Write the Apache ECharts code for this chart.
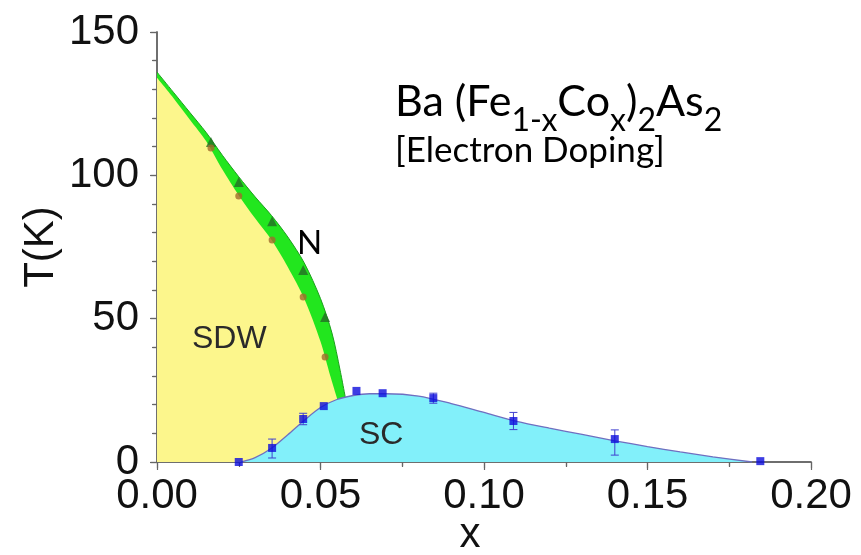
<!DOCTYPE html>
<html>
<head>
<meta charset="utf-8">
<script src="https://cdn.jsdelivr.net/npm/echarts@6/dist/echarts.min.js"></script>
<style>html,body{margin:0;padding:0;background:#fff;}#c{width:861px;height:555px;}</style>
</head>
<body>
<div id="c"></div>
<script>
// ---- data ----
const xTicks = [0, 0.05, 0.10, 0.15, 0.20];
const yTicks = [0, 50, 100, 150];
// SDW boundary (yellow edge)
const sdwX = [0, 0.005, 0.010, 0.015, 0.020, 0.025, 0.030, 0.035, 0.040, 0.045, 0.050, 0.053, 0.0562];
const sdwT = [134, 127, 119.5, 112, 102, 93, 85, 77.5, 68, 57, 42, 30, 18];
// Nematic (N) upper boundary (green band)
const nemX = [0, 0.005, 0.010, 0.015, 0.020, 0.025, 0.030, 0.035, 0.040, 0.045, 0.050, 0.0535, 0.056, 0.058];
const nemT = [136, 129, 122, 115, 107, 99.5, 92.5, 86, 78.5, 69.5, 57, 45, 32, 20];
// markers
const triX = [0.0165, 0.025, 0.0352, 0.0447, 0.0514];
const triT = [111.6, 97.7, 84, 67, 50.6];
const cirX = [0.0165, 0.025, 0.0352, 0.0447, 0.0514];
const cirT = [109.5, 92.8, 77.4, 57.6, 36.6];
// SC dome curve
const domeX = [0.0258, 0.030, 0.035, 0.040, 0.045, 0.050, 0.055, 0.060, 0.065, 0.070, 0.080, 0.090, 0.100, 0.110, 0.120, 0.130, 0.140, 0.150, 0.160, 0.170, 0.182];
const domeT = [0, 1.5, 4.8, 9.5, 14.5, 19, 21.8, 23.2, 23.8, 23.8, 23.0, 20.4, 17.3, 14.2, 11.8, 9.6, 7.4, 5.4, 3.5, 1.8, 0];
// SC data points with error bars
const scX  = [0.025, 0.0352, 0.0447, 0.051, 0.061, 0.069, 0.0845, 0.109, 0.14, 0.1845];
const scT  = [0, 4.9, 15, 19.5, 24.8, 24, 22.3, 14.3, 8, 0.3];
const scLo = [0, 1.4, 13, 19.5, 24.8, 24, 20.5, 11.3, 2.4, 0.3];
const scHi = [0, 8.0, 17, 19.5, 24.8, 24, 24.0, 17.3, 11.2, 0.3];
// formula text pieces: [text, isSubscript]
const formulaParts = [['Ba (Fe', 0], ['1-x', 1], ['Co', 0], ['x', 1], [')', 0], ['2', 1], ['As', 0], ['2', 1]];

const zip = (a, b) => a.map((v, i) => [v, b[i]]);
const errData = scX.map((x, i) => [x, scLo[i], scHi[i]]).filter(d => d[2] - d[1] > 1);

// build formula as separate text pieces, advancing by measured width
const ctx = document.createElement('canvas').getContext('2d');
const mainFont = 'Lato, "Open Sans", sans-serif';
const mainSize = 43, subSize = 32;
const formulaChildren = [];
let fx = 0;
formulaParts.forEach(([t, sub]) => {
  const size = sub ? subSize : mainSize;
  ctx.font = size + 'px ' + mainFont;
  const w = ctx.measureText(t).width;
  formulaChildren.push({
    type: 'text', x: fx, y: sub ? 14 - 0.36 * subSize : -0.36 * mainSize,
    style: {text: t, font: size + 'px ' + mainFont, fill: '#000', verticalAlign: 'middle', align: 'left'}
  });
  fx += w;
});

const chart = echarts.init(document.getElementById('c'), null, {renderer: 'canvas'});
const axisCol = '#666';
const labelFont = {fontFamily: '"Liberation Sans", Arial, sans-serif', fontSize: 42, color: '#111'};

const option = {
  animation: false,
  backgroundColor: '#fff',
  grid: {left: 157, right: 50, top: 32, bottom: 93, containLabel: false, outerBoundsMode: 'none'},
  xAxis: [{
    type: 'value', min: 0, max: 0.2, interval: 0.05, position: 'bottom',
    axisLine: {show: true, lineStyle: {color: axisCol, width: 1.5}},
    axisTick: {show: true, length: 8, lineStyle: {color: axisCol, width: 1.2}},
    minorTick: {show: true, splitNumber: 2, length: 5, lineStyle: {color: axisCol, width: 1.2}},
    splitLine: {show: false},
    axisLabel: Object.assign({margin: 13, formatter: v => v.toFixed(2)}, labelFont),
    name: 'x', nameLocation: 'middle', nameGap: 52, nameMoveOverlap: false,
    nameTextStyle: {fontFamily: '"Liberation Sans", Arial, sans-serif', fontSize: 42, color: '#111', padding: [0, 28, 0, 0]}
  }, {
    type: 'value', min: 0, max: 0.2, interval: 0.05, position: 'top',
    axisLine: {show: true, lineStyle: {color: axisCol, width: 1.5}},
    axisTick: {show: true, inside: true, length: 6, lineStyle: {color: axisCol, width: 1.2}},
    minorTick: {show: true, splitNumber: 2, length: 4, lineStyle: {color: axisCol, width: 1.2}},
    splitLine: {show: false}, axisLabel: {show: false}
  }],
  yAxis: [{
    type: 'value', min: 0, max: 150, interval: 50, position: 'left',
    axisLine: {show: true, lineStyle: {color: axisCol, width: 1.5}},
    axisTick: {show: true, length: 7, lineStyle: {color: axisCol, width: 1.2}},
    minorTick: {show: true, splitNumber: 5, length: 5, lineStyle: {color: axisCol, width: 1.2}},
    splitLine: {show: false},
    axisLabel: Object.assign({margin: 18}, labelFont),
    name: 'T(K)', nameLocation: 'middle', nameGap: 95, nameRotate: 90, nameMoveOverlap: false,
    nameTextStyle: {fontFamily: '"Liberation Sans", Arial, sans-serif', fontSize: 42, color: '#111'}
  }, {
    type: 'value', min: 0, max: 150, interval: 50, position: 'right',
    axisLine: {show: true, lineStyle: {color: axisCol, width: 1.5}},
    axisTick: {show: true, inside: true, length: 6, lineStyle: {color: axisCol, width: 1.2}},
    minorTick: {show: true, splitNumber: 5, length: 4, lineStyle: {color: axisCol, width: 1.2}},
    splitLine: {show: false}, axisLabel: {show: false}
  }],
  series: [
    {
      name: 'N', type: 'line', z: 1, data: zip(nemX, nemT), smooth: 0.3,
      symbol: 'none', lineStyle: {color: '#1ca01c', width: 1}, areaStyle: {color: '#22e61e', opacity: 1}
    },
    {
      name: 'SDW', type: 'line', z: 2, data: zip(sdwX, sdwT), smooth: 0.3,
      symbol: 'none', lineStyle: {width: 0}, areaStyle: {color: '#fcf68c', opacity: 1}
    },
    {
      name: 'SC', type: 'line', z: 3, data: zip(domeX, domeT), smooth: 0.3,
      symbol: 'none', lineStyle: {color: '#6f6fc0', width: 1.3}, areaStyle: {color: '#82f0fa', opacity: 1}
    },
    {
      name: 'err', type: 'custom', z: 4, data: errData,
      encode: {x: 0, y: [1, 2]},
      renderItem: (params, api) => {
        const x = api.value(0), lo = api.value(1), hi = api.value(2);
        const p1 = api.coord([x, hi]), p2 = api.coord([x, lo]);
        const w = 4, st = {stroke: '#4040d0', lineWidth: 1};
        return {type: 'group', children: [
          {type: 'line', shape: {x1: p1[0], y1: p1[1], x2: p2[0], y2: p2[1]}, style: st},
          {type: 'line', shape: {x1: p1[0] - w, y1: p1[1], x2: p1[0] + w, y2: p1[1]}, style: st},
          {type: 'line', shape: {x1: p2[0] - w, y1: p2[1], x2: p2[0] + w, y2: p2[1]}, style: st}
        ]};
      }
    },
    {
      name: 'Tn', type: 'scatter', z: 5, data: zip(triX, triT), symbol: 'triangle', symbolSize: 10,
      itemStyle: {color: '#256d25'}
    },
    {
      name: 'Ts', type: 'scatter', z: 5, data: zip(cirX, cirT), symbol: 'circle', symbolSize: 7,
      itemStyle: {color: '#a06c2c'}
    },
    {
      name: 'Tc', type: 'scatter', z: 6, data: zip(scX, scT), symbol: 'rect', symbolSize: 8,
      itemStyle: {color: '#0c0cdc'}
    }
  ],
  graphic: [
    {type: 'group', x: 395, y: 118, z: 10, children: formulaChildren},
    {
      type: 'text', x: 395, y: 151, z: 10,
      style: {text: '[Electron Doping]', font: '35px ' + mainFont, fill: '#000', verticalAlign: 'middle'}
    },
    {
      type: 'text', left: 297, top: 227, z: 10,
      style: {text: 'N', fontFamily: mainFont, fontSize: 33, fill: '#000'}
    },
    {
      type: 'text', left: 192, top: 323, z: 10,
      style: {text: 'SDW', fontFamily: '"Liberation Sans", Arial, sans-serif', fontSize: 32, fill: '#2a2a2a'}
    },
    {
      type: 'text', left: 359, top: 419, z: 10,
      style: {text: 'SC', fontFamily: '"Liberation Sans", Arial, sans-serif', fontSize: 32, fill: '#2a2a2a'}
    }
  ]
};
chart.setOption(option);
</script>
</body>
</html>
